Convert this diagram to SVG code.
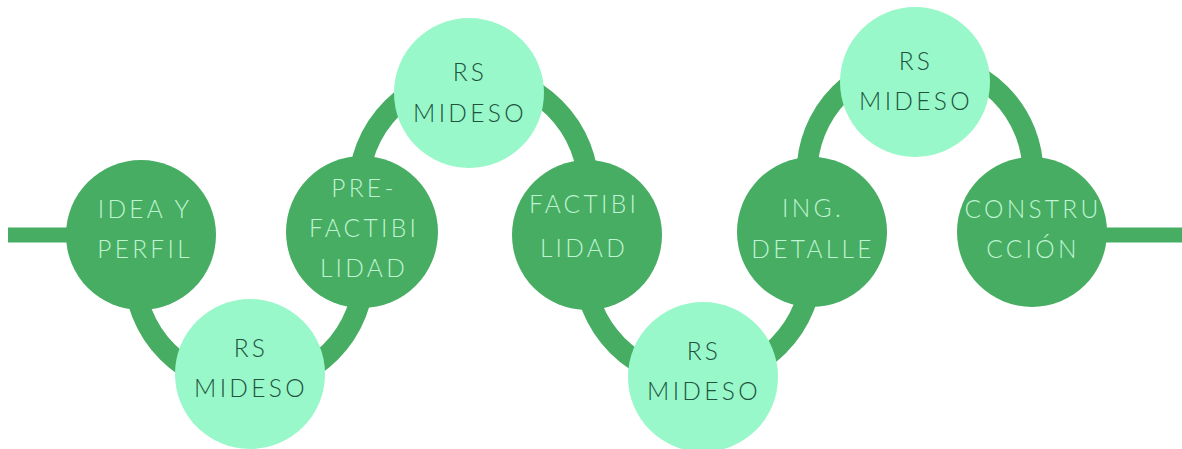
<svg xmlns="http://www.w3.org/2000/svg" width="1182" height="449" viewBox="0 0 1182 449">
<style>
.band{fill:none;stroke:#47ad62;stroke-width:21}
.line{fill:none;stroke:#47ad62;stroke-width:15}
.dark{fill:#47ad62}
.light{fill:#98f8c9}
text{font-family:Lato,"Open Sans","Liberation Sans",sans-serif;font-size:24.5px;font-weight:300;letter-spacing:3.3px;text-anchor:middle}
.tl{fill:#bff3d2}
.td{fill:#22533f}
</style>
<rect width="1182" height="449" fill="#ffffff"/>
<g id="connectors">
<line class="line" x1="8" y1="235" x2="100" y2="235"/>
<line class="line" x1="1070" y1="235" x2="1182" y2="235"/>
<path class="band" d="M134 271 A115 115 0 0 0 364 271"/>
<path class="band" d="M358.5 189.5 A115 115 0 0 1 588.5 189.5"/>
<path class="band" d="M584 265 A114 114 0 0 0 812 265"/>
<path class="band" d="M807 173.5 A113 113 0 0 1 1033 173.5"/>
</g>
<g id="idea">
<circle class="dark" cx="141" cy="235" r="75"/>
<text class="tl" x="145" y="218">IDEA Y</text>
<text class="tl" x="145" y="258">PERFIL</text>
</g>
<g id="rs1">
<circle class="light" cx="250" cy="374" r="75"/>
<text class="td" x="251" y="357">RS</text>
<text class="td" x="251" y="397">MIDESO</text>
</g>
<g id="prefact">
<circle class="dark" cx="362" cy="232" r="76"/>
<text class="tl" x="364" y="197">PRE-</text>
<text class="tl" x="364" y="237">FACTIBI</text>
<text class="tl" x="364" y="277">LIDAD</text>
</g>
<g id="rs2">
<circle class="light" cx="469" cy="93" r="75"/>
<text class="td" x="470" y="81">RS</text>
<text class="td" x="470" y="122">MIDESO</text>
</g>
<g id="fact">
<circle class="dark" cx="587" cy="235" r="75"/>
<text class="tl" x="584" y="213">FACTIBI</text>
<text class="tl" x="584" y="257">LIDAD</text>
</g>
<g id="rs3">
<circle class="light" cx="703" cy="377" r="75"/>
<text class="td" x="704" y="360">RS</text>
<text class="td" x="704" y="400">MIDESO</text>
</g>
<g id="ing">
<circle class="dark" cx="812" cy="232" r="75"/>
<text class="tl" x="813" y="217">ING.</text>
<text class="tl" x="813" y="258">DETALLE</text>
</g>
<g id="rs4">
<circle class="light" cx="915" cy="82" r="75"/>
<text class="td" x="916" y="70">RS</text>
<text class="td" x="916" y="110">MIDESO</text>
</g>
<g id="const">
<circle class="dark" cx="1032" cy="232" r="75"/>
<text class="tl" x="1033" y="218">CONSTRU</text>
<text class="tl" x="1033" y="258">CCIÓN</text>
</g>
</svg>
